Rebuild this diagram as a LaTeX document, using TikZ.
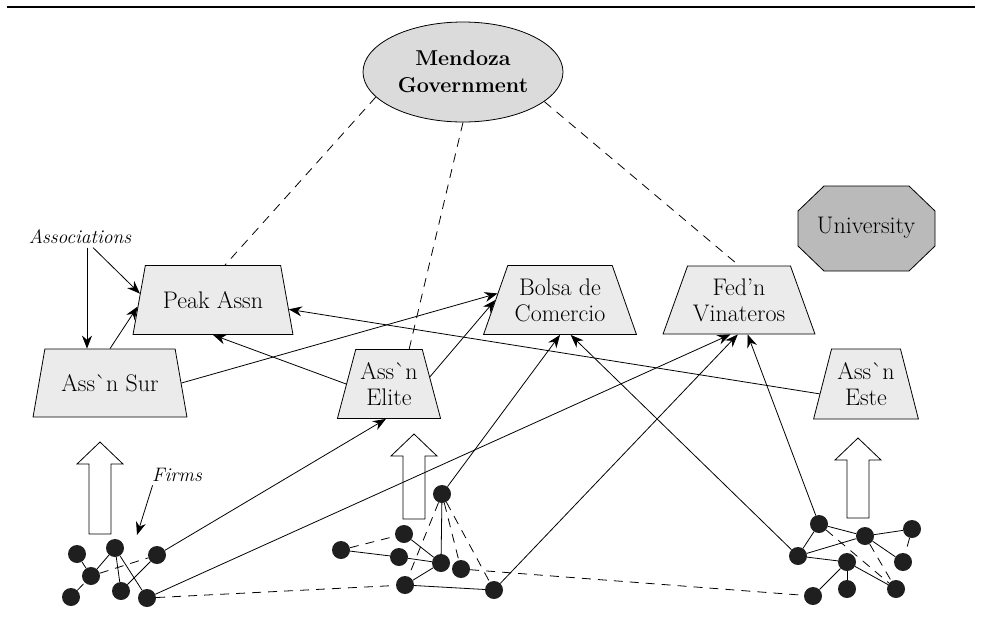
\documentclass[tikz,border=0pt]{standalone}
\usepackage{tikz}
\usetikzlibrary{shapes.geometric, arrows.meta}
\definecolor{assngray}{gray}{0.92}
\definecolor{govgray}{gray}{0.86}
\definecolor{unigray}{gray}{0.73}
\tikzstyle{assn} = [trapezium, trapezium stretches=true, draw, line width=0.8pt, fill=assngray, inner sep=0pt, align=center, font=\fontsize{24}{26}\selectfont]
\tikzstyle{firm} = [circle, fill=black!88, minimum size=18pt, inner sep=0pt]
\tikzstyle{arrow} = [line width=0.8pt, -{Stealth[length=13pt, width=10pt]}]
\tikzstyle{link} = [line width=0.8pt]
\tikzstyle{tie} = [line width=0.8pt, dash pattern=on 9pt off 7pt]
\tikzstyle{tag} = [font=\fontsize{19.5}{21}\selectfont\itshape]

\begin{document}
\begin{tikzpicture}[x=1pt, y=-1pt]
\useasboundingbox (0,0) rectangle (981,625);
\draw [line width=1.2pt] (7,7) -- (975,7);

%%% block arrows %%%%%%%%%%%%%%%%%%
\foreach \x/\y/\len in {100/442/92, 414/434/85, 858/438/80}
  \draw [line width=0.8pt, fill=white] (\x,\y) -- ++(23,22) -- ++(-12,0) -- ++(0,\len-22) -- ++(-22,0) -- ++(0,22-\len) -- ++(-12,0) -- cycle;

%%% nodes %%%%%%%%%%%%%%%%%%%%%%%%%
\node (gov) [ellipse, draw, line width=0.8pt, fill=govgray, minimum width=200pt, minimum height=100pt, align=center, font=\fontsize{21.5}{27}\selectfont\bfseries] at (463,72) {Mendoza\\Government};

\node (peak) [assn, trapezium angle=62, minimum width=160pt, minimum height=69pt] at (213,300) {Peak Assn};
\node (sur) [assn, trapezium angle=63, minimum width=154pt, minimum height=68pt] at (110,383) {Ass\`{}n Sur};
\node (elite) [assn, trapezium angle=70, minimum width=104pt, minimum height=69pt] at (389,384) {Ass\`{}n\\Elite};
\node (bolsa) [assn, trapezium angle=64, minimum width=153pt, minimum height=69pt] at (560,300) {Bolsa de\\Comercio};
\node (fedn) [assn, trapezium angle=63, minimum width=152pt, minimum height=68pt] at (739,300) {Fed'n\\Vinateros};
\node (este) [assn, trapezium angle=71, minimum width=105pt, minimum height=70pt] at (866,384) {Ass\`{}n\\Este};

\draw [line width=0.8pt, fill=unigray] (824,186) -- (909,186) -- (935,211) -- (935,246) -- (909,271) -- (824,271) -- (798,246) -- (798,211) -- cycle;
\node (univ) [font=\fontsize{24}{26}\selectfont] at (866,228) {University};

\node (assoc) [tag] at (80,237) {Associations};
\node (firms) [tag] at (177,475) {Firms};
\coordinate (firmtip) at (137,535);

% firms
\foreach \n/\x/\y in {a1/77/554, a2/115/548, a3/157/555, a4/91/576, a5/71/597, a6/121/591, a7/147/598,
  b1/442/494, b2/404/534, b3/341/550, b4/399/557, b5/441/563, b6/461/569, b7/405/585, b8/494/590,
  c1/819/524, c2/865/536, c3/912/529, c4/798/556, c5/847/562, c6/903/562, c7/813/596, c8/847/589, c9/896/589}
  \node (\n) [firm] at (\x,\y) {};

%%% drawing %%%%%%%%%%%%%%%%%%%%%%%
\foreach \u/\v in {a1/a4, a4/a2, a2/a6, a2/a7, a6/a3, b1/b5, b3/b4, b4/b5, b2/b5, b7/b5, b7/b8,
  c1/c2, c1/c4, c2/c3, c4/c2, c4/c5, c5/c7, c5/c8, c5/c9, c2/c6}
  \draw [link] (\u) -- (\v);
\foreach \u/\v in {a4/a3, a5/a4, b1/b7, b1/b6, b1/b8, b3/b2, c1/c9, c2/c9, c3/c6, a7/b7, b6/c7}
  \draw [tie] (\u) -- (\v);

\draw [tie] (gov.196) -- (peak.71);
\draw [tie] (gov.south) -- (elite.60);
\draw [tie] (gov.340) -- (fedn.north);

\draw [arrow] ([xshift=7pt]assoc.south) -- ([xshift=7pt]assoc.south |- sur.north);
\draw [arrow] ([xshift=13pt]assoc.south) -- (peak.175);
\draw [arrow] ([xshift=4pt]firms.south west) -- (firmtip);
\draw [arrow] (sur.north) -- (peak.185);
\draw [arrow] (sur.east) -- (bolsa.174);
\draw [arrow] (elite.10) -- (bolsa.180);
\draw [arrow] (elite.west) -- (peak.south);
\draw [arrow] (este.192) -- (peak.353);
\draw [arrow] (a3) -- (elite.265);
\draw [arrow] (a7) -- (fedn.256);
\draw [arrow] (b1) -- (bolsa.south);
\draw [arrow] (b8) -- (fedn.268);
\draw [arrow] (c4) -- (bolsa.287);
\draw [arrow] (c1) -- (fedn.284);
\end{tikzpicture}
\end{document}
